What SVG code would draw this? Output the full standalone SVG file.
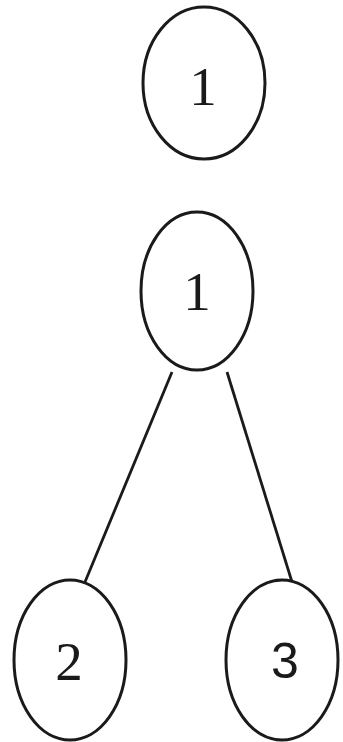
<svg xmlns="http://www.w3.org/2000/svg" width="343" height="742" viewBox="0 0 343 742">
<style>
.n{fill:#fff;stroke:#1a1a1a;stroke-width:3}
.t{font-family:"Liberation Serif","Times New Roman",serif;font-size:55px;fill:#1a1a1a;text-anchor:middle}
.s{font-family:"Liberation Sans",Arial,sans-serif;font-size:50px;fill:#1a1a1a;text-anchor:middle}
.e{stroke:#1a1a1a;stroke-width:2.8;fill:none}
</style>
<rect width="343" height="742" fill="#fff"/>
<g id="connectors">
<line class="e" x1="172" y1="372" x2="85" y2="582"/>
<line class="e" x1="227" y1="372" x2="292" y2="582"/>
</g>
<g id="node-1-top">
<ellipse class="n" cx="204" cy="83" rx="61" ry="76"/>
<text class="t" x="203" y="105">1</text>
</g>
<g id="node-1">
<ellipse class="n" cx="197" cy="291" rx="56" ry="79"/>
<text class="t" x="197" y="310">1</text>
</g>
<g id="node-2">
<ellipse class="n" cx="70" cy="660" rx="56" ry="80"/>
<text class="t" x="69" y="680">2</text>
</g>
<g id="node-3">
<ellipse class="n" cx="282" cy="660" rx="56" ry="80"/>
<text class="s" x="285" y="678">3</text>
</g>
</svg>
